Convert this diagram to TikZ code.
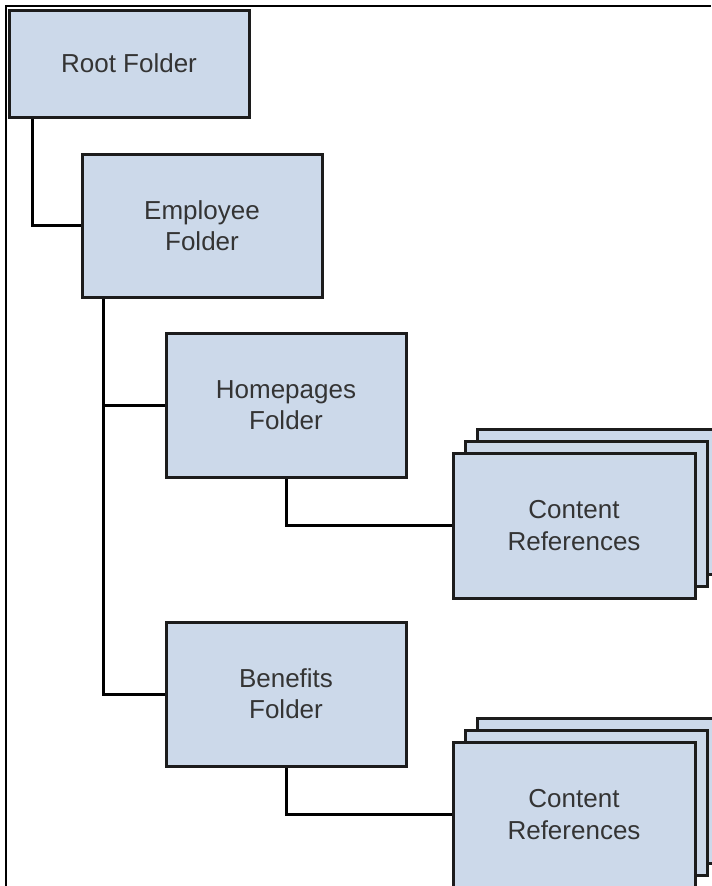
\documentclass[tikz,border=0pt]{standalone}
\usepackage{fontspec}
\setmainfont{Liberation Sans}
\definecolor{folderfill}{RGB}{204,217,234}
\definecolor{edgegray}{RGB}{28,28,28}
\definecolor{textgray}{RGB}{52,52,52}
\begin{document}
\begin{tikzpicture}[x=0.75pt,y=-0.75pt,
  folder/.style={draw=edgegray,line width=2.25pt,fill=folderfill,text=textgray,
    minimum width=180pt,minimum height=108pt,align=center,inner sep=0pt,
    font=\fontsize{19.5}{23.5}\selectfont},
  refpage/.style={folder,minimum width=181.5pt,minimum height=108.75pt},
  link/.style={line width=2.25pt,black}]
  \useasboundingbox (0,0) rectangle (711,886);
  \draw[line width=1.5pt] (6,886) -- (6,6) -- (711,6);

  \node[folder,minimum height=80.25pt] (root) at (129,63.5) {Root Folder};
  \node[folder,minimum height=107.25pt] (emp) at (202,225.5) {Employee\\Folder};
  \node[folder] (home) at (286,405) {Homepages\\Folder};
  \node[folder] (ben) at (286,694) {Benefits\\Folder};

  \node[refpage] (crA3) at (598,501.5) {};
  \node[refpage] (crA2) at (586,513.5) {};
  \node[refpage] (crA1) at (574,525.5) {Content\\References};
  \node[refpage] (crB3) at (598,790.5) {};
  \node[refpage] (crB2) at (586,802.5) {};
  \node[refpage] (crB1) at (574,814.5) {Content\\References};

  \draw[link] (root.south west) ++(25,0) |- (emp.west);
  \draw[link] (emp.south west) ++(23,0) |- (home.west);
  \draw[link] (emp.south west) ++(23,0) |- (ben.west);
  \draw[link] (home.south) |- (crA1.west);
  \draw[link] (ben.south) |- (crB1.west);
\end{tikzpicture}
\end{document}
